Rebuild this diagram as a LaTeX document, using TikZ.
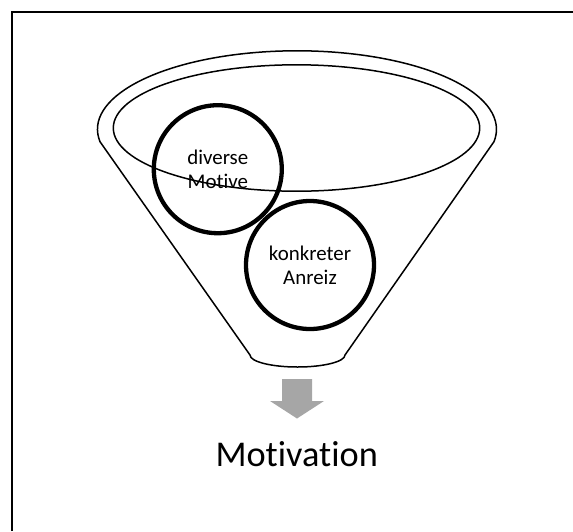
\documentclass[tikz,border=0pt]{standalone}
\usepackage{fontspec}
\setmainfont{Carlito}[Ligatures=NoCommon]
\usetikzlibrary{shapes.geometric}
\definecolor{arrowgray}{HTML}{A6A6A6}
\begin{document}
\begin{tikzpicture}[x=1pt,y=-1pt,
  outline/.style={line width=1.5pt},
  motif/.style={circle, draw, line width=4.3pt, minimum size=128pt, inner sep=0pt,
    align=center, font=\fontsize{20.9}{24.3}\selectfont},
  result/.style={font=\fontsize{36.3}{40}\selectfont, anchor=base},
]
\useasboundingbox (0,0) rectangle (573,531);

% open frame: only the top and left edges lie inside the page
\coordinate (frameBL) at (12,531);
\coordinate (frameTL) at (12,12);
\coordinate (frameTR) at (573,12);
\draw[line width=1.7pt] (frameBL) -- (frameTL) -- (frameTR);

% funnel body: rim arc over the top, straight walls, rounded spout
\coordinate (wallL) at (100,141.7);
\coordinate (spoutL) at (250,355);
\coordinate (spoutR) at (345,355);
\draw[outline] (spoutL) -- (wallL)
  arc[start angle=170.9, end angle=369.1, x radius=199.5, y radius=78.5]
  -- (spoutR)
  arc[start angle=0, end angle=180, x radius=47.5, y radius=12]
  -- cycle;

% opening of the funnel
\draw[outline] (296.5,128) ellipse [x radius=183.2, y radius=63.2];

% the two ingredients
\node[motif] (motive) at (217.8,169.2) {diverse\\Motive};
\node[motif] (anreiz) at (310,265) {konkreter\\Anreiz};

% block arrow below the spout
\fill[arrowgray] (282,379) -- (312,379) -- (312,401) -- (324,401)
  -- (297,418.5) -- (270,401) -- (282,401) -- cycle;

% outcome
\node[result] (motivation) at (296.7,466.7) {Motivation};
\end{tikzpicture}
\end{document}
